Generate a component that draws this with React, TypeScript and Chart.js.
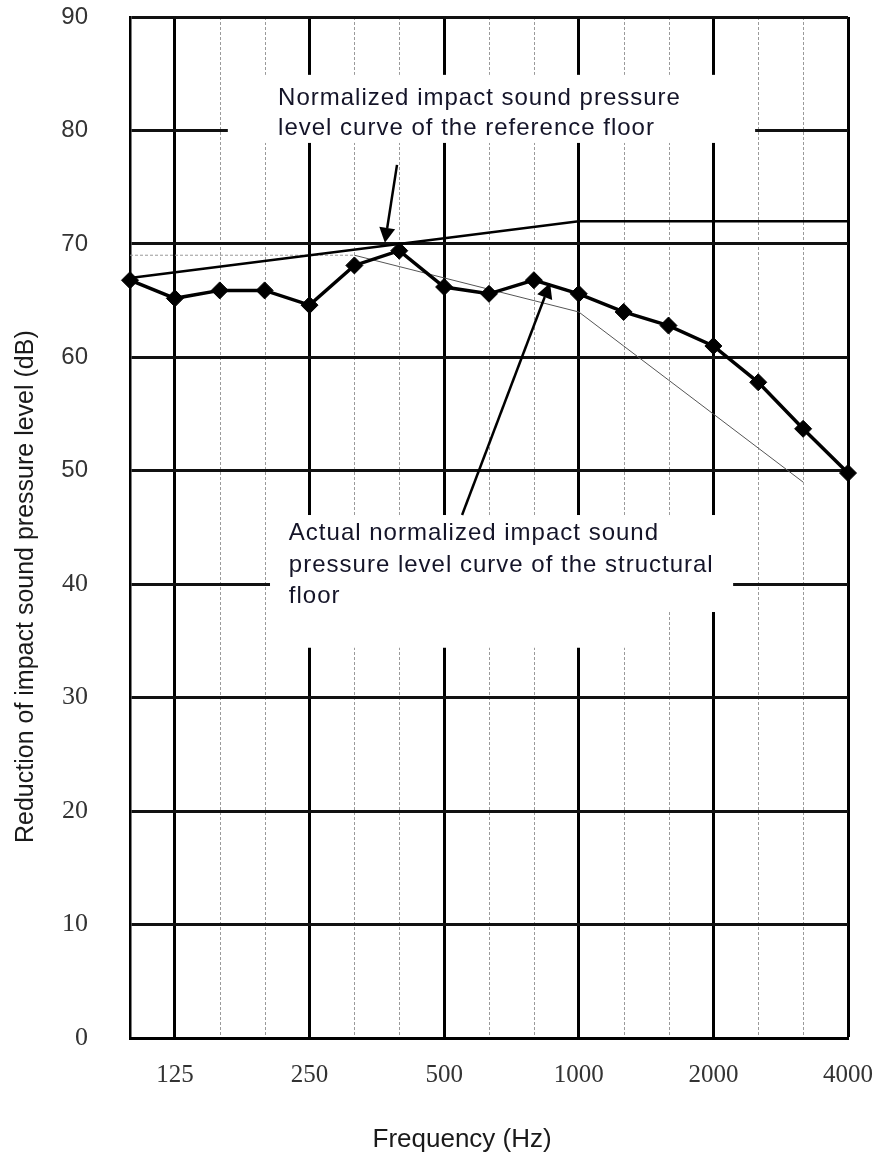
import React, { useEffect, useRef } from "react";
import { Chart, registerables } from "chart.js";

Chart.register(...registerables);

// ---- data ----
const frequencies = ["100", "125", "160", "200", "250", "315", "400", "500", "630", "800", "1000", "1250", "1600", "2000", "2500", "3150", "4000"];
const xTickLabels = ["125", "250", "500", "1000", "2000", "4000"];
const measured = [66.8, 65.2, 65.9, 65.9, 64.6, 68.1, 69.4, 66.2, 65.6, 66.8, 65.6, 64.0, 62.8, 61.0, 57.8, 53.7, 49.8];
const referenceFloor = [67, null, null, null, null, null, null, null, null, null, 72, null, null, null, null, null, 72];
const shiftedReference = [69, 69, 69, 69, 69, 69, 68, 67, 66, 65, 64, 61, 58, 55, 52, 49, null];
const yTicks = [0, 10, 20, 30, 40, 50, 60, 70, 80, 90];

const yTitle = "Reduction of impact sound pressure level (dB)";
const xTitle = "Frequency (Hz)";
const note1 = ["Normalized impact sound pressure", "level curve of the reference floor"];
const note2 = ["Actual normalized impact sound", "pressure level curve of the structural", "floor"];

// ---- annotation geometry (in category index / dB units) ----
const boxes = [
  { x0: 2.18, x1: 13.93, y0: 84.9, y1: 78.9 },
  { x0: 3.12, x1: 13.44, y0: 46.1, y1: 37.55 },
  { x0: 3.12, x1: 11.7, y0: 37.6, y1: 34.4 },
];
const texts = [
  { x: 3.3, ys: [82.25, 79.6], lines: note1 },
  { x: 3.54, ys: [43.9, 41.08, 38.35], lines: note2 },
];
const arrows = [
  { fx: 5.95, fy: 76.96, tx: 5.68, ty: 70.1 },
  { fx: 7.4, fy: 46.1, tx: 9.36, ty: 66.55 },
];

const SANS = "'Liberation Sans', Arial, sans-serif";
const SERIF = "'Liberation Serif', 'Times New Roman', serif";

const annotationPlugin = {
  id: "annot",
  beforeDraw(chart: any) {
    const { ctx, chartArea } = chart;
    const xs = chart.scales.x;
    ctx.save();
    ctx.strokeStyle = "#9a9a9a";
    ctx.lineWidth = 1;
    ctx.setLineDash([3, 2]);
    frequencies.forEach((f, i) => {
      if (i === 0 || xTickLabels.includes(f)) return;
      const x = Math.round(xs.getPixelForValue(i)) + 0.5;
      ctx.beginPath();
      ctx.moveTo(x, chartArea.top);
      ctx.lineTo(x, chartArea.bottom);
      ctx.stroke();
    });
    ctx.restore();
  },
  beforeDatasetsDraw(chart: any) {
    const { ctx } = chart;
    const xs = chart.scales.x;
    const ys = chart.scales.y;
    ctx.save();
    ctx.fillStyle = "#ffffff";
    boxes.forEach((b) => {
      const x0 = xs.getPixelForValue(b.x0);
      const x1 = xs.getPixelForValue(b.x1);
      const y0 = ys.getPixelForValue(b.y0);
      const y1 = ys.getPixelForValue(b.y1);
      ctx.fillRect(x0, y0, x1 - x0, y1 - y0);
    });
    ctx.restore();
  },
  afterDatasetsDraw(chart: any) {
    const { ctx, chartArea } = chart;
    const xs = chart.scales.x;
    const ys = chart.scales.y;
    ctx.save();
    ctx.strokeStyle = "#000";
    ctx.fillStyle = "#000";
    ctx.lineWidth = 2.5;
    arrows.forEach((a) => {
      const fx = xs.getPixelForValue(a.fx);
      const fy = ys.getPixelForValue(a.fy);
      const tx = xs.getPixelForValue(a.tx);
      const ty = ys.getPixelForValue(a.ty);
      const ang = Math.atan2(ty - fy, tx - fx);
      const len = 15;
      const hw = 8;
      const bx = tx - len * Math.cos(ang);
      const by = ty - len * Math.sin(ang);
      ctx.beginPath();
      ctx.moveTo(fx, fy);
      ctx.lineTo(bx, by);
      ctx.stroke();
      ctx.beginPath();
      ctx.moveTo(tx, ty);
      ctx.lineTo(bx + hw * Math.sin(ang), by - hw * Math.cos(ang));
      ctx.lineTo(bx - hw * Math.sin(ang), by + hw * Math.cos(ang));
      ctx.closePath();
      ctx.fill();
    });
    ctx.fillStyle = "#141428";
    ctx.font = `24px ${SANS}`;
    (ctx as any).letterSpacing = "1px";
    ctx.textBaseline = "alphabetic";
    ctx.textAlign = "left";
    texts.forEach((t) => {
      const x = xs.getPixelForValue(t.x);
      t.lines.forEach((line, i) => {
        ctx.fillText(line, x, ys.getPixelForValue(t.ys[i]));
      });
    });
    ctx.restore();

    // axis titles
    ctx.save();
    (ctx as any).letterSpacing = "0px";
    ctx.fillStyle = "#1a1a1a";
    ctx.font = `26px ${SANS}`;
    ctx.textAlign = "center";
    ctx.textBaseline = "alphabetic";
    ctx.fillText(xTitle, xs.getPixelForValue(7.4), chart.height - 6);
    ctx.font = `25px ${SANS}`;
    ctx.translate(33, chartArea.bottom - 195);
    ctx.rotate(-Math.PI / 2);
    ctx.textAlign = "left";
    ctx.fillText(yTitle, 0, 0);
    ctx.restore();
  },
};

export default function App() {
  const ref = useRef<HTMLCanvasElement | null>(null);
  useEffect(() => {
    document.body.style.margin = "0";
    const canvas = ref.current;
    if (!canvas) return;
    const chart = new Chart(canvas, {
      type: "line",
      data: {
        labels: frequencies,
        datasets: [
          {
            label: "Measured",
            data: measured,
            borderColor: "#000",
            backgroundColor: "#000",
            borderWidth: 3.5,
            pointStyle: "rectRot",
            pointRadius: 8.5,
            pointBackgroundColor: "#000",
            pointBorderColor: "#000",
            pointBorderWidth: 1,
            clip: false,
            order: 0,
          },
          {
            label: "Reference floor",
            data: referenceFloor,
            spanGaps: true,
            borderColor: "#000",
            borderWidth: 2.5,
            pointRadius: 0,
            order: 1,
          },
          {
            label: "Shifted reference",
            data: shiftedReference,
            borderColor: "#666",
            borderWidth: 1,
            pointRadius: 0,
            order: 2,
            segment: {
              borderDash: (c: any) => (c.p0DataIndex < 5 ? [3, 2] : undefined),
              borderColor: (c: any) => (c.p0DataIndex < 5 ? "#999" : "#555"),
            },
          },
        ] as any,
      },
      options: {
        animation: false,
        responsive: false,
        events: [],
        layout: { padding: { top: 17, right: 43, left: 0, bottom: 0 } },
        plugins: { legend: { display: false }, tooltip: { enabled: false } },
        scales: {
          x: {
            type: "category",
            offset: false,
            afterFit: (s: any) => {
              s.height = 115;
              s.paddingLeft = 0;
              s.paddingRight = 0;
            },
            grid: {
              drawTicks: false,
              color: (c: any) => (xTickLabels.includes(frequencies[c.index]) ? "#000" : "rgba(0,0,0,0)"),
              lineWidth: (c: any) => (xTickLabels.includes(frequencies[c.index]) ? 3 : 1),
            },
            border: { color: "#000", width: 3 },
            ticks: {
              autoSkip: false,
              maxRotation: 0,
              padding: 22,
              color: "#333",
              font: { family: SERIF, size: 25 },
              callback: (v: any, i: number) => (xTickLabels.includes(frequencies[i]) ? frequencies[i] : ""),
            },
            title: { display: false, text: xTitle },
          },
          y: {
            min: 0,
            max: 90,
            afterFit: (s: any) => {
              s.width = 130;
              s.paddingTop = 0;
              s.paddingBottom = 0;
            },
            afterBuildTicks: (s: any) => {
              s.ticks = yTicks.map((v) => ({ value: v }));
            },
            grid: { drawTicks: false, color: "#111", lineWidth: 3 },
            border: { color: "#000", width: 2.5 },
            ticks: {
              padding: 42,
              color: "#333",
              font: (c: any) =>
                c.tick && c.tick.value <= 40 ? { family: SERIF, size: 26 } : { family: SANS, size: 24 },
            },
            title: { display: false, text: yTitle },
          },
        },
      },
      plugins: [annotationPlugin],
    } as any);
    return () => chart.destroy();
  }, []);
  return <canvas ref={ref} width={891} height={1153} style={{ display: "block" }} />;
}
